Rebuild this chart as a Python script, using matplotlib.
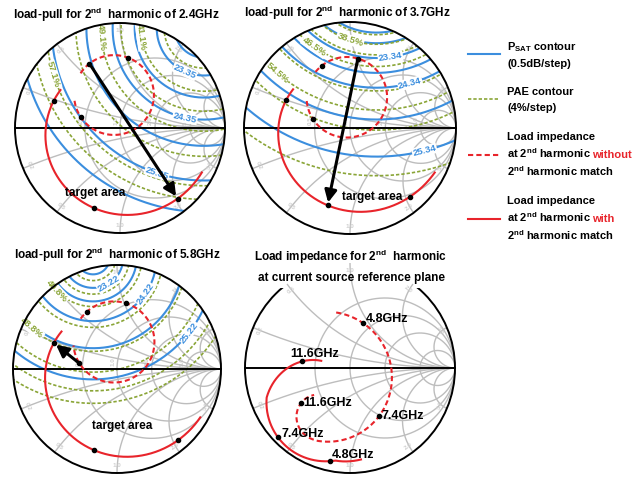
import numpy as np
import matplotlib.pyplot as plt
from matplotlib.patches import Circle

plt.rcParams['font.family'] = ['Liberation Sans', 'DejaVu Sans']
plt.rcParams['font.weight'] = 'bold'
plt.rcParams['mathtext.fontset'] = 'custom'
plt.rcParams['mathtext.rm'] = 'Liberation Sans:bold'
plt.rcParams['mathtext.bf'] = 'Liberation Sans:bold'

# ---------------- data (reflection-coefficient plane, |G| <= 1) ----------------
titles = [r'load-pull for 2$^{\mathbf{nd}}$  harmonic of 2.4GHz',
          r'load-pull for 2$^{\mathbf{nd}}$  harmonic of 3.7GHz',
          r'load-pull for 2$^{\mathbf{nd}}$  harmonic of 5.8GHz']
title4 = [r'Load impedance for 2$^{\mathbf{nd}}$  harmonic',
          'at current source reference plane']

# Psat contours (dBm): family centre, radius of each contour, label angle
psat_centre = [(0.80, 0.95), (0.25, 1.60), (-0.23, 1.07)]
psat_levels = [[22.85, 23.35, 23.85, 24.35, 24.85, 25.35, 25.85],
               [22.34, 22.84, 23.34, 23.84, 24.34, 24.84, 25.34],
               [22.72, 23.22, 23.72, 24.22, 24.72, 25.22]]
psat_radius = [[0.28, 0.45, 0.66, 0.87, 1.12, 1.45, 1.75],
               [0.70, 0.80, 0.94, 1.08, 1.22, 1.52, 1.87],
               [0.16, 0.29, 0.42, 0.61, 0.87, 1.17]]
psat_labels = [{23.35: -114, 24.35: -102, 25.35: -108},
               {23.34: -82, 24.34: -75, 25.34: -76},
               {23.22: -59, 24.22: -35, 25.22: -38}]

# PAE contours (%)
pae_levels = [[37.1, 41.1, 45.1, 49.1, 53.1, 57.1, 61.1],
              [34.5, 38.5, 42.5, 46.5, 50.5, 54.5, 58.5, 62.5],
              [32.8, 36.8, 40.8, 44.8, 48.8, 52.8, 56.8, 60.8]]
pae_radius = [[0.38, 0.60, 0.79, 0.98, 1.22, 1.50, 1.63],
              [0.72, 0.81, 0.91, 1.02, 1.25, 1.43, 1.62, 2.05],
              [0.22, 0.35, 0.47, 0.67, 0.90, 1.10, 1.28, 1.40]]
pae_labels = [{41.1: -172, 49.1: -175, 57.1: -163},
              {38.5: -108, 46.5: -125, 54.5: -131},
              {40.8: -137, 48.8: -131}]

# load impedance traces: segments (cx, cy, r_start, r_end, ang_start, ang_end)
without_match = [[(-0.057, 0.314, 0.38, 0.38, 147, -173)],
                 [(-0.03, 0.29, 0.38, 0.38, 141, -176)],
                 [(-0.03, 0.26, 0.39, 0.39, 145, -175)],
                 [(-0.22, -0.10, 0.635, 0.60, 82, -100),
                  (-0.29, -0.45, 0.24, 0.20, -100, -255)]]
with_match = [[(0.02, -0.02, 0.70, 0.86, 147, 332)],
              [(0.02, 0.03, 0.65, 0.90, 149, 330)],
              [(0.03, -0.02, 0.68, 0.89, 146, 330)],
              [(-0.24, -0.32, 0.39, 0.555, 95, 176),
               (-0.24, -0.32, 0.555, 0.57, 176, 280),
               (-0.24, -0.32, 0.57, 0.65, 280, 302)]]
# frequency markers: (segment, angle)
without_dots = [[(0, 128), (0, 70), (0, -146)],
                [(0, 128), (0, 74), (0, -148)],
                [(0, 132), (0, 72), (0, -148)],
                [(0, 57), (0, -36), (1, -215)]]
with_dots = [[(0, 157), (0, 250), (0, 309)],
             [(0, 159), (0, 253), (0, 309)],
             [(0, 157), (0, 252), (0, 310)],
             [(0, 119), (1, 217), (1, 275)]]
# arrow: index of start marker (without) -> end marker (with)
arrows = [(0, 2), (1, 1), (2, 0)]
freq_without = ['4.8GHz', '7.4GHz', '11.6GHz']
freq_with = ['11.6GHz', '7.4GHz', '4.8GHz']

# Smith chart grid
grid_r = [0.5, 1.0, 2.0, 5.0]
grid_x = [0.2, 0.5, 1.0, 2.0, 5.0]

# ---------------- style / layout ----------------
W, H = 639, 480
BLUE = '#3b8ede'
GREEN = '#8aa537'
RED = '#e8242b'
GRID = '#bdbdbd'
GRIDTXT = '#d0d0d0'
panels = [(120, 128, 105, 1.02), (350, 128, 106, 1.02),
          (117, 369, 104, 1.02), (350, 368, 105, 0.76)]

fig = plt.figure(figsize=(W / 100, H / 100), dpi=100)


def add_panel(cx, cy, R, top):
    m = 1.02
    ax = fig.add_axes([(cx - m * R) / W, 1 - (cy + m * R) / H,
                       2 * m * R / W, (m + top) * R / H])
    ax.set_xlim(-m, m)
    ax.set_ylim(-m, top)
    ax.axis('off')
    return ax


def smith(ax, clip, r_text=True):
    t = np.linspace(0, 2 * np.pi, 4000)
    for r in grid_r:
        c, rad = r / (1 + r), 1 / (1 + r)
        ax.plot(c + rad * np.cos(t), rad * np.sin(t), color=GRID, lw=1.0,
                zorder=1, clip_path=clip)
        if r_text:
            ax.text(1 - 2 * rad - 0.04, 0.07, f'{r:.1f}', rotation=90, fontsize=4.5,
                    color=GRIDTXT, ha='center', va='center', zorder=1)
    for x in grid_x:
        rad = 1 / x
        for s in (1, -1):
            ax.plot(1 + rad * np.cos(t), s * rad + rad * np.sin(t), color=GRID,
                    lw=1.0, zorder=1, clip_path=clip)
            gx, gy = (x * x - 1) / (x * x + 1), s * 2 * x / (x * x + 1)
            ang = np.degrees(np.arctan2(gy, gx))
            rot = (ang + 90 + 90) % 180 - 90
            ax.text(0.93 * gx, 0.93 * gy, f'{x:.1f}', rotation=rot, fontsize=4.5,
                    color=GRIDTXT, ha='center', va='center', zorder=1,
                    rotation_mode='anchor')
    ax.add_patch(Circle((0, 0), 1, fill=False, ec='k', lw=1.4, zorder=6))
    ax.plot([-1, 1], [0, 0], color='k', lw=1.4, zorder=6)


def family(ax, clip, c, radii, color, ls, lw):
    t = np.linspace(0, 2 * np.pi, 1500)
    for r in radii:
        ax.plot(c[0] + r * np.cos(t), c[1] + r * np.sin(t), color=color, ls=ls,
                lw=lw, zorder=3, clip_path=clip)


def label(ax, c, r, ang, text, color):
    a = np.radians(ang)
    rot = (ang + 90 + 90) % 180 - 90
    ax.text(c[0] + r * np.cos(a), c[1] + r * np.sin(a), text, color=color,
            fontsize=6.8, rotation=rot, rotation_mode='anchor', ha='center',
            va='center', zorder=5, clip_on=False,
            bbox=dict(fc='white', ec='none', pad=0.5))


def trace(segs):
    xs, ys = [], []
    for cx, cy, r0, r1, a0, a1 in segs:
        a = np.radians(np.linspace(a0, a1, 300))
        r = np.linspace(r0, r1, 300)
        xs.append(cx + r * np.cos(a))
        ys.append(cy + r * np.sin(a))
    return np.concatenate(xs), np.concatenate(ys)


def point(segs, k, ang):
    cx, cy, r0, r1, a0, a1 = segs[k]
    r = r0 + (r1 - r0) * (ang - a0) / (a1 - a0)
    a = np.radians(ang)
    return cx + r * np.cos(a), cy + r * np.sin(a)


axes = []
for i, (cx, cy, R, top) in enumerate(panels):
    ax = add_panel(cx, cy, R, top)
    axes.append(ax)
    clip = Circle((0, 0), 1, transform=ax.transData)
    smith(ax, clip, r_text=(i < 3))
    if i < 3:
        family(ax, clip, psat_centre[i], psat_radius[i], BLUE, '-', 1.5)
        family(ax, clip, psat_centre[i], pae_radius[i], GREEN, (0, (2, 1.2)), 1.2)
        for lev, ang in psat_labels[i].items():
            r = psat_radius[i][psat_levels[i].index(lev)]
            label(ax, psat_centre[i], r, ang, f'{lev:.2f}', BLUE)
        for lev, ang in pae_labels[i].items():
            r = pae_radius[i][pae_levels[i].index(lev)]
            label(ax, psat_centre[i], r, ang, f'{lev:.1f}%', GREEN)

    xw, yw = trace(without_match[i])
    ax.plot(xw, yw, color=RED, ls=(0, (2.5, 1.5)), lw=1.5, zorder=7)
    xm, ym = trace(with_match[i])
    ax.plot(xm, ym, color=RED, lw=1.5, zorder=7)
    pw = [point(without_match[i], k, a) for k, a in without_dots[i]]
    pm = [point(with_match[i], k, a) for k, a in with_dots[i]]
    ax.plot([p[0] for p in pw + pm], [p[1] for p in pw + pm], 'o', color='k',
            ms=3, zorder=8)

    if i < 3:
        s, e = arrows[i]
        ax.annotate('', xy=pm[e], xytext=pw[s], zorder=9,
                    arrowprops=dict(arrowstyle='-|>', color='k', lw=2.2,
                                    mutation_scale=18, shrinkA=0, shrinkB=2))
    else:
        offs_w = [((2, 3), 'left'), ((2, 0), 'left'), ((1.5, 0), 'left')]
        offs_m = [((9, 5.5), 'center'), ((3, 2), 'left'), ((1.5, 4.5), 'left')]
        for p, txt, (o, ha) in zip(pw, freq_without, offs_w):
            ax.annotate(txt, xy=p, xytext=o, textcoords='offset points',
                        ha=ha, va='center', fontsize=9, zorder=10)
        for p, txt, (o, ha) in zip(pm, freq_with, offs_m):
            ax.annotate(txt, xy=p, xytext=o, textcoords='offset points',
                        ha=ha, va='center', fontsize=9, zorder=10)

axes[0].text(-0.24, -0.62, 'target area', fontsize=8.5, ha='center', va='center', zorder=10)
axes[1].text(0.21, -0.65, 'target area', fontsize=8.5, ha='center', va='center', zorder=10)
axes[2].text(0.05, -0.55, 'target area', fontsize=8.5, ha='center', va='center', zorder=10)

# ---------------- titles and legend (pixel coordinates) ----------------
ov = fig.add_axes([0, 0, 1, 1])
ov.set_xlim(0, W)
ov.set_ylim(H, 0)
ov.axis('off')

ov.text(116, 15, titles[0], fontsize=8.5, ha='center', va='center')
ov.text(347, 13, titles[1], fontsize=8.5, ha='center', va='center')
ov.text(117, 255, titles[2], fontsize=8.5, ha='center', va='center')
ov.text(351, 257, title4[0], fontsize=8.5, ha='center', va='center')
ov.text(351, 278, title4[1], fontsize=8.5, ha='center', va='center')

fs = 8.0
ov.plot([468, 500], [54, 54], color=BLUE, lw=1.5)
ov.text(507, 50, r'P$_{\mathbf{SAT}}$ contour', fontsize=fs, va='baseline')
ov.text(507, 67, '(0.5dB/step)', fontsize=fs, va='baseline')
ov.plot([468, 500], [99, 99], color=GREEN, lw=1.2, ls=(0, (2, 1.2)))
ov.text(507, 95, 'PAE contour', fontsize=fs, va='baseline')
ov.text(507, 111, '(4%/step)', fontsize=fs, va='baseline')

fig.canvas.draw()
renderer = fig.canvas.get_renderer()
for y0, ls, word in [(155, (0, (2.5, 1.5)), 'without'), (219, '-', 'with')]:
    ov.plot([468, 500], [y0, y0], color=RED, lw=1.5, ls=ls)
    ov.text(507, y0 - 15, 'Load impedance', fontsize=fs, va='baseline')
    t = ov.text(507, y0 + 3, r'at 2$^{\mathbf{nd}}$ harmonic', fontsize=fs, va='baseline')
    bb = t.get_window_extent(renderer)
    xend = ov.transData.inverted().transform((bb.x1, bb.y0))[0]
    ov.text(xend + 1.5, y0 + 3, word, color=RED, fontsize=fs, va='baseline')
    ov.text(507, y0 + 21, r'2$^{\mathbf{nd}}$ harmonic match', fontsize=fs, va='baseline')

fig.savefig('out.png', dpi=100)
